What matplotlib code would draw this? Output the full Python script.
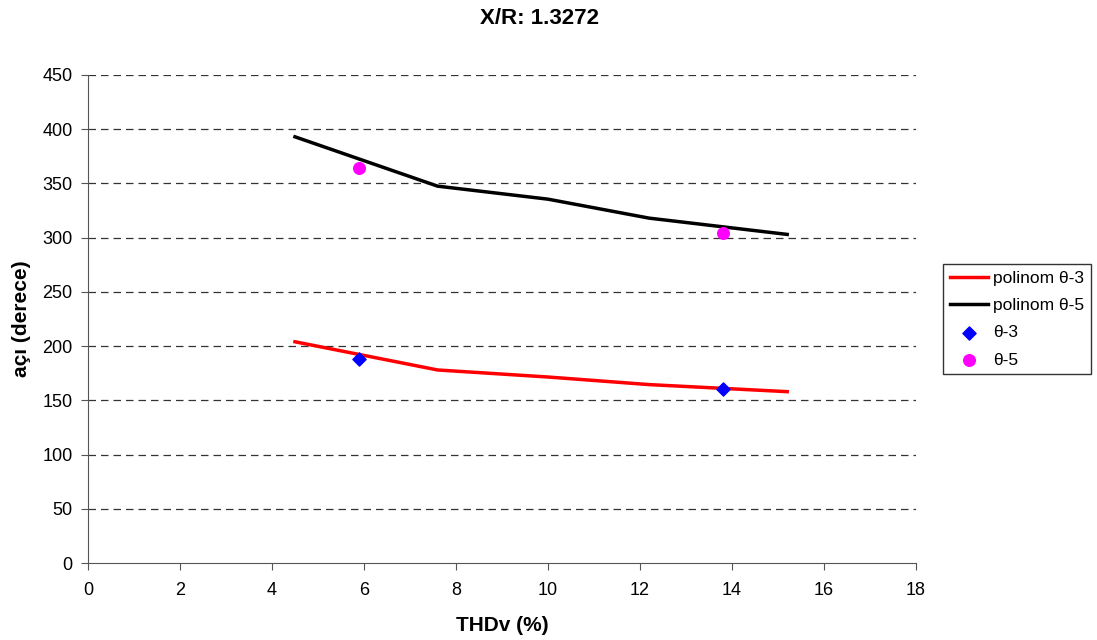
import matplotlib
matplotlib.use("Agg")
import matplotlib.pyplot as plt

plt.rcParams['font.family'] = ['Liberation Sans', 'DejaVu Sans']

poly3_x = [4.5, 7.6, 10.0, 12.2, 15.2]
poly3_y = [204, 178, 171.5, 164.5, 158]
poly5_x = [4.5, 7.6, 10.0, 12.2, 15.2]
poly5_y = [393, 347.5, 335.5, 318, 303]
theta3_x = [5.9, 13.8]
theta3_y = [188, 160.5]
theta5_x = [5.9, 13.8]
theta5_y = [364.5, 304]

fig = plt.figure(figsize=(10.97, 6.4), dpi=100)
ax = fig.add_axes([88/1097, 1-563/640, (916-88)/1097, (563-75)/640])

ax.plot(poly3_x, poly3_y, color='#ff0000', lw=2.5, label='polinom θ-3', zorder=3)
ax.plot(poly5_x, poly5_y, color='black', lw=2.5, label='polinom θ-5', zorder=3)
ax.scatter(theta3_x, theta3_y, marker='D', s=45, color='#0000ff', label='θ-3', zorder=4)
ax.scatter(theta5_x, theta5_y, marker='o', s=70, color='#ff00ff', label='θ-5', zorder=4)

ax.set_xlim(0, 18)
ax.set_ylim(0, 450)
ax.set_xticks(range(0, 19, 2))
ax.set_yticks(range(0, 451, 50))
for v in range(50, 451, 50):
    ax.axhline(v, color='#333333', lw=0.9, ls=(0, (6, 4)), zorder=1)
for s in ['top', 'right']:
    ax.spines[s].set_visible(False)
for s in ['left', 'bottom']:
    ax.spines[s].set_color('#555555')
ax.tick_params(axis='both', direction='out', length=5, color='#555555', labelsize=13, pad=6)
ax.tick_params(axis='x', pad=9)

ax.set_xlabel('THDv (%)', fontsize=15, fontweight='bold', labelpad=12)
ax.set_ylabel('açı (derece)', fontsize=15, fontweight='bold', labelpad=8)
fig.text(0.492, 1-18/640, 'X/R: 1.3272', ha='center', va='center', fontsize=16, fontweight='bold')

leg = ax.legend(loc='center left', bbox_to_anchor=((943-88)/828, 0.5), fontsize=12.5,
                frameon=True, fancybox=False, edgecolor='black', borderaxespad=0,
                handlelength=2.2, handletextpad=0.3, borderpad=0.4, labelspacing=0.7)
leg.get_frame().set_linewidth(1.0)

fig.savefig('out.png', dpi=100)
